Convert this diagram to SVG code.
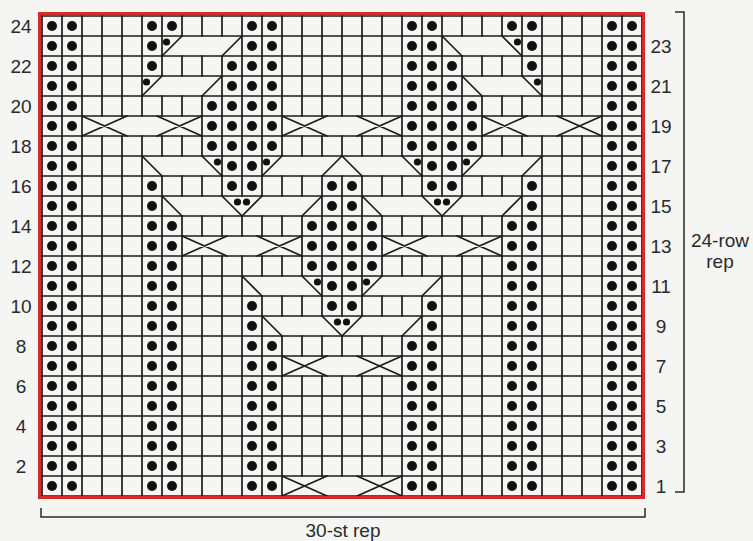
<svg xmlns="http://www.w3.org/2000/svg" xmlns:xlink="http://www.w3.org/1999/xlink" width="753" height="541" viewBox="0 0 753 541">
<style>
.ln{fill:none;stroke:#1c1c1c;stroke-width:1.7;stroke-linecap:square}
.cb{fill:none;stroke:#1c1c1c;stroke-width:1.7;stroke-linecap:round}
.t{font-family:"Liberation Sans",Arial,sans-serif;font-size:19px;fill:#2a2a2a}
.tm{text-anchor:middle}
.br{fill:none;stroke:#2a2a2a;stroke-width:1.5}
</style>
<defs>
<circle id="d" r="5" fill="#111"/>
<circle id="s" r="3.6" fill="#111"/>
<g id="rowA"><use href="#d" x="52"/><use href="#d" x="72"/><use href="#d" x="152"/><use href="#d" x="172"/><use href="#d" x="252"/><use href="#d" x="272"/><use href="#d" x="412"/><use href="#d" x="432"/><use href="#d" x="512"/><use href="#d" x="532"/><use href="#d" x="612"/><use href="#d" x="632"/></g>
<g id="rowB"><use href="#d" x="52"/><use href="#d" x="72"/><use href="#d" x="212"/><use href="#d" x="232"/><use href="#d" x="252"/><use href="#d" x="272"/><use href="#d" x="412"/><use href="#d" x="432"/><use href="#d" x="452"/><use href="#d" x="472"/><use href="#d" x="612"/><use href="#d" x="632"/></g>
<g id="rowC"><use href="#d" x="52"/><use href="#d" x="72"/><use href="#d" x="152"/><use href="#d" x="172"/><use href="#d" x="312"/><use href="#d" x="332"/><use href="#d" x="352"/><use href="#d" x="372"/><use href="#d" x="512"/><use href="#d" x="532"/><use href="#d" x="612"/><use href="#d" x="632"/></g>
</defs>
<rect width="753" height="541" fill="#f5f5f3"/>
<g id="grid">
<path class="ln" d="M42 16H642M42 36H642M42 56H642M42 76H642M42 96H642M42 116H642M42 136H642M42 156H642M42 176H642M42 196H642M42 216H642M42 236H642M42 256H642M42 276H642M42 296H642M42 316H642M42 336H642M42 356H642M42 376H642M42 396H642M42 416H642M42 436H642M42 456H642M42 476H642M42 496H642"/>
<path class="ln" d="M42 16V496M62 16V496M82 16V496M602 16V496M622 16V496M642 16V496
M102 16V116M102 136V496M122 16V116M122 136V496M142 16V116M142 136V496
M542 16V116M542 136V496M562 16V116M562 136V496M582 16V116M582 136V496
M162 16V76M162 96V116M162 136V156M162 176V496
M522 16V76M522 96V116M522 136V156M522 176V496
M182 16V36M182 56V76M182 96V116M182 136V156M182 176V196M182 216V496
M502 16V36M502 56V76M502 96V116M502 136V156M502 176V196M502 216V496
M202 16V36M202 56V76M202 96V156M202 176V196M202 216V236M202 256V496
M482 16V36M482 56V76M482 96V156M482 176V196M482 216V236M482 256V496
M222 16V36M222 56V196M222 216V236M222 256V496
M462 16V36M462 56V196M462 216V236M462 256V496
M242 16V196M242 216V236M242 256V496
M442 16V196M442 216V236M442 256V496
M262 16V196M262 216V236M262 256V276M262 296V496
M422 16V196M422 216V236M422 256V276M422 296V496
M282 16V156M282 176V196M282 216V236M282 256V276M282 296V316M282 336V496
M402 16V156M402 176V196M402 216V236M402 256V276M402 296V316M402 336V496
M302 16V116M302 136V156M302 176V196M302 216V276M302 296V316M302 336V356M302 376V476
M382 16V116M382 136V156M382 176V196M382 216V276M382 296V316M382 336V356M382 376V476
M322 16V116M322 136V156M322 176V316M322 336V356M322 376V476
M342 16V116M342 136V156M342 176V316M342 336V356M342 376V476
M362 16V116M362 136V156M362 176V316M362 336V356M362 376V476"/>
</g>
<g id="cables">
<path class="cb" d="M162 56L182 36M222 56L242 36M442 36L462 56M502 36L522 56
M142 96L162 76M202 96L222 76M462 76L482 96M522 76L542 96
M142 156L162 176M202 156L222 176M262 176L282 156M322 176L342 156M342 156L362 176M402 156L422 176M462 176L482 156M522 176L542 156
M162 196L182 216M222 196L242 216M242 216L262 196M302 216L322 196M362 196L382 216M422 196L442 216M442 216L462 196M502 216L522 196
M242 276L262 296M302 276L322 296M362 296L382 276M422 296L442 276
M262 316L282 336M322 316L342 336M342 336L362 316M402 336L422 316"/>
<path class="cb" d="M82 116L127 136M82 136L127 116M202 116L157 136M202 136L157 116
M282 116L327 136M282 136L327 116M402 116L357 136M402 136L357 116
M482 116L527 136M482 136L527 116M602 116L557 136M602 136L557 116
M182 236L227 256M182 256L227 236M302 236L257 256M302 256L257 236
M382 236L427 256M382 256L427 236M502 236L457 256M502 256L457 236
M282 356L327 376M282 376L327 356M402 356L357 376M402 376L357 356
M282 476L327 496M282 496L327 476M402 476L357 496M402 496L357 476"/>
</g>
<g id="stitches">
<use href="#rowA" y="26"/>
<g transform="translate(0,46)"><use href="#d" x="52"/><use href="#d" x="72"/><use href="#d" x="152"/><use href="#d" x="252"/><use href="#d" x="272"/><use href="#d" x="412"/><use href="#d" x="432"/><use href="#d" x="532"/><use href="#d" x="612"/><use href="#d" x="632"/></g>
<g transform="translate(0,66)"><use href="#d" x="52"/><use href="#d" x="72"/><use href="#d" x="152"/><use href="#d" x="232"/><use href="#d" x="252"/><use href="#d" x="272"/><use href="#d" x="412"/><use href="#d" x="432"/><use href="#d" x="452"/><use href="#d" x="532"/><use href="#d" x="612"/><use href="#d" x="632"/></g>
<g transform="translate(0,86)"><use href="#d" x="52"/><use href="#d" x="72"/><use href="#d" x="232"/><use href="#d" x="252"/><use href="#d" x="272"/><use href="#d" x="412"/><use href="#d" x="432"/><use href="#d" x="452"/><use href="#d" x="612"/><use href="#d" x="632"/></g>
<use href="#rowB" y="106"/>
<use href="#rowB" y="126"/>
<use href="#rowB" y="146"/>
<g transform="translate(0,166)"><use href="#d" x="52"/><use href="#d" x="72"/><use href="#d" x="232"/><use href="#d" x="252"/><use href="#d" x="432"/><use href="#d" x="452"/><use href="#d" x="612"/><use href="#d" x="632"/></g>
<g transform="translate(0,186)"><use href="#d" x="52"/><use href="#d" x="72"/><use href="#d" x="152"/><use href="#d" x="232"/><use href="#d" x="252"/><use href="#d" x="332"/><use href="#d" x="352"/><use href="#d" x="432"/><use href="#d" x="452"/><use href="#d" x="532"/><use href="#d" x="612"/><use href="#d" x="632"/></g>
<g transform="translate(0,206)"><use href="#d" x="52"/><use href="#d" x="72"/><use href="#d" x="152"/><use href="#d" x="332"/><use href="#d" x="352"/><use href="#d" x="532"/><use href="#d" x="612"/><use href="#d" x="632"/></g>
<use href="#rowC" y="226"/>
<use href="#rowC" y="246"/>
<use href="#rowC" y="266"/>
<g transform="translate(0,286)"><use href="#d" x="52"/><use href="#d" x="72"/><use href="#d" x="152"/><use href="#d" x="172"/><use href="#d" x="332"/><use href="#d" x="352"/><use href="#d" x="512"/><use href="#d" x="532"/><use href="#d" x="612"/><use href="#d" x="632"/></g>
<g transform="translate(0,306)"><use href="#d" x="52"/><use href="#d" x="72"/><use href="#d" x="152"/><use href="#d" x="172"/><use href="#d" x="252"/><use href="#d" x="332"/><use href="#d" x="352"/><use href="#d" x="432"/><use href="#d" x="512"/><use href="#d" x="532"/><use href="#d" x="612"/><use href="#d" x="632"/></g>
<g transform="translate(0,326)"><use href="#d" x="52"/><use href="#d" x="72"/><use href="#d" x="152"/><use href="#d" x="172"/><use href="#d" x="252"/><use href="#d" x="432"/><use href="#d" x="512"/><use href="#d" x="532"/><use href="#d" x="612"/><use href="#d" x="632"/></g>
<use href="#rowA" y="346"/>
<use href="#rowA" y="366"/>
<use href="#rowA" y="386"/>
<use href="#rowA" y="406"/>
<use href="#rowA" y="426"/>
<use href="#rowA" y="446"/>
<use href="#rowA" y="466"/>
<use href="#rowA" y="486"/>
<use href="#s" x="166.5" y="42"/><use href="#s" x="517.5" y="42"/>
<use href="#s" x="146.5" y="82"/><use href="#s" x="537.5" y="82"/>
<use href="#s" x="217.5" y="162"/><use href="#s" x="266.5" y="162"/><use href="#s" x="417.5" y="162"/><use href="#s" x="466.5" y="162"/>
<use href="#s" x="237.5" y="202"/><use href="#s" x="246.5" y="202"/><use href="#s" x="437.5" y="202"/><use href="#s" x="446.5" y="202"/>
<use href="#s" x="317.5" y="282"/><use href="#s" x="366.5" y="282"/>
<use href="#s" x="337.5" y="322"/><use href="#s" x="346.5" y="322"/>
</g>
<rect id="border" x="39.5" y="13.5" width="604" height="484" fill="none" stroke="#d42b2b" stroke-width="3"/>
<g id="labels" class="t">
<g class="tm">
<text x="21" y="33">24</text><text x="21" y="73">22</text><text x="21" y="113">20</text><text x="21" y="153">18</text>
<text x="21" y="193">16</text><text x="21" y="233">14</text><text x="21" y="273">12</text><text x="21" y="313">10</text>
<text x="21" y="353">8</text><text x="21" y="393">6</text><text x="21" y="433">4</text><text x="21" y="473">2</text>
<text x="661" y="53">23</text><text x="661" y="93">21</text><text x="661" y="133">19</text><text x="661" y="173">17</text>
<text x="661" y="213">15</text><text x="661" y="253">13</text><text x="661" y="293">11</text><text x="661" y="333">9</text>
<text x="661" y="373">7</text><text x="661" y="413">5</text><text x="661" y="453">3</text><text x="661" y="493">1</text>
<text x="720" y="247">24-row</text><text x="720" y="268">rep</text>
<text x="343" y="537">30-st rep</text>
</g>
</g>
<g id="brackets">
<path class="br" d="M675 12H684V492H675"/>
<path class="br" d="M41 508V517H645V508"/>
</g>
</svg>
